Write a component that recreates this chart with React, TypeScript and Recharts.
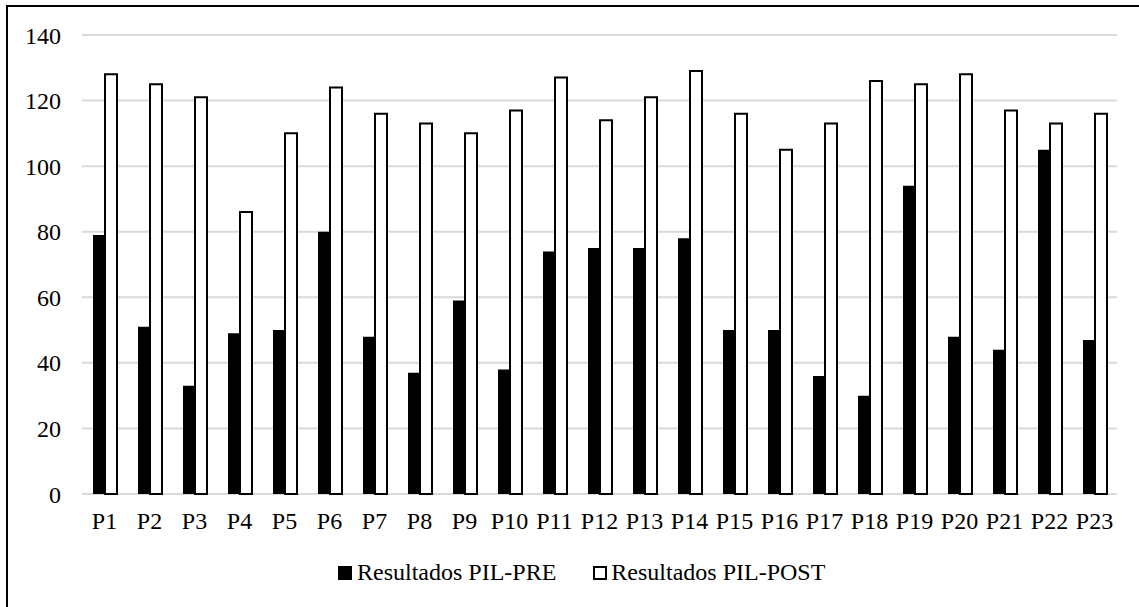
import React from "react";
import { BarChart, Bar, XAxis, YAxis, CartesianGrid, Legend } from "recharts";

// participants P1..P23
const participants = [
  "P1", "P2", "P3", "P4", "P5", "P6", "P7", "P8", "P9", "P10", "P11", "P12",
  "P13", "P14", "P15", "P16", "P17", "P18", "P19", "P20", "P21", "P22", "P23",
];

const pilPre = [79, 51, 33, 49, 50, 80, 48, 37, 59, 38, 74, 75, 75, 78, 50, 50, 36, 30, 94, 48, 44, 105, 47];
const pilPost = [128, 125, 121, 86, 110, 124, 116, 113, 110, 117, 127, 114, 121, 129, 116, 105, 113, 126, 125, 128, 117, 113, 116];

const yTicks = [0, 20, 40, 60, 80, 100, 120, 140];

const FONT = "Liberation Serif, Tinos, Times New Roman, DejaVu Serif, serif";
const FONT_SIZE = 24;

const data = participants.map((p, i) => ({ name: p, pre: pilPre[i], post: pilPost[i] }));

function LegendBox() {
  return (
    <div
      style={{
        position: "absolute",
        left: 338,
        display: "flex",
        alignItems: "center",
        fontFamily: FONT,
        fontSize: FONT_SIZE,
        color: "#000",
        whiteSpace: "nowrap",
      }}
    >
      <span style={{ width: 14, height: 14, background: "#000", display: "inline-block" }} />
      <span style={{ marginLeft: 5 }}>Resultados PIL-PRE</span>
      <span
        style={{
          width: 10,
          height: 10,
          border: "2px solid #000",
          background: "#fff",
          display: "inline-block",
          marginLeft: 37,
        }}
      />
      <span style={{ marginLeft: 4 }}>Resultados PIL-POST</span>
    </div>
  );
}

export default function App() {
  return (
    <div
      style={{
        position: "fixed",
        left: 0,
        top: 0,
        width: 1139,
        height: 607,
        overflow: "hidden",
        background: "#fff",
        fontFamily: FONT,
      }}
    >
      {/* chart frame, cut off at the right and bottom edges */}
      <div
        style={{
          position: "absolute",
          left: 6,
          top: 5,
          width: 1200,
          height: 700,
          border: "2px solid #000",
        }}
      />
      <div style={{ position: "absolute", left: 0, top: 0 }}>
        <BarChart
          width={1139}
          height={607}
          data={data}
          margin={{ top: 35, right: 22, bottom: 73, left: 0 }}
          barGap={0}
          barSize={12}
          style={{ fontFamily: FONT }}
        >
          <CartesianGrid vertical={false} stroke="#d9d9d9" strokeWidth={2} />
          <XAxis
            dataKey="name"
            axisLine={false}
            tickLine={false}
            tickSize={0}
            tickMargin={18}
            height={40}
            interval={0}
            tick={{ fill: "#000", fontSize: FONT_SIZE, fontFamily: FONT }}
          />
          <YAxis
            domain={[0, 140]}
            ticks={yTicks}
            axisLine={false}
            tickLine={false}
            tickSize={0}
            tickMargin={21}
            width={82}
            tick={{ fill: "#000", fontSize: FONT_SIZE, fontFamily: FONT }}
          />
          <Legend
            layout="horizontal"
            verticalAlign="middle"
            align="center"
            content={() => <LegendBox />}
            wrapperStyle={{ top: 559, left: 0, width: 1139, height: 28 }}
          />
          <Bar dataKey="pre" name="Resultados PIL-PRE" fill="#000" isAnimationActive={false} />
          <Bar
            dataKey="post"
            name="Resultados PIL-POST"
            fill="#fff"
            stroke="#000"
            strokeWidth={2}
            isAnimationActive={false}
          />
        </BarChart>
      </div>
    </div>
  );
}
